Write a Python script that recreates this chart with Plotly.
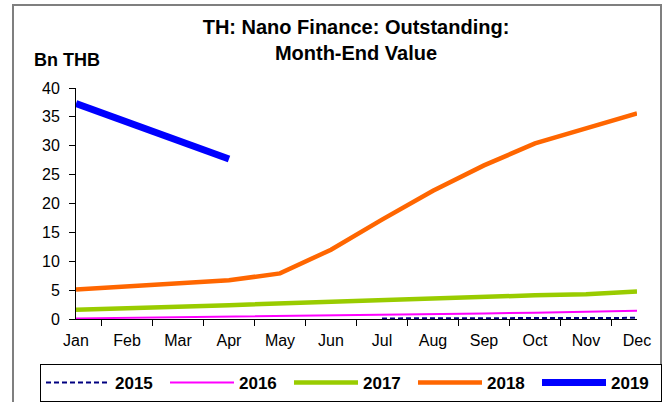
import plotly.graph_objects as go

months = ["Jan", "Feb", "Mar", "Apr", "May", "Jun", "Jul", "Aug", "Sep", "Oct", "Nov", "Dec"]
v2015 = [None, None, None, None, None, None, 0.1, 0.12, 0.13, 0.15, 0.17, 0.2]
v2016 = [0.1, 0.2, 0.3, 0.35, 0.45, 0.55, 0.7, 0.85, 0.95, 1.1, 1.25, 1.45]
v2017 = [1.6, 1.8, 2.1, 2.4, 2.7, 3.0, 3.3, 3.6, 3.9, 4.1, 4.3, 4.75]
v2018 = [5.1, 5.6, 6.2, 6.7, 7.9, 12.0, 17.2, 22.2, 26.6, 30.4, 33.0, 35.6]
v2019 = [37.3, 34.2, 30.8, 27.7]
y_ticks = [0, 5, 10, 15, 20, 25, 30, 35, 40]

series = [
    ("2015", v2015, "#000080", 2, "5px,3px"),
    ("2016", v2016, "#FF00FF", 2, "solid"),
    ("2017", v2017, "#99CC00", 4.5, "solid"),
    ("2018", v2018, "#FF6600", 4.5, "solid"),
    ("2019", v2019, "#0000FF", 7, "solid"),
]

FONT = "Arial, Liberation Sans, sans-serif"
fig = go.Figure()
for name, vals, color, width, dash in series:
    fig.add_trace(go.Scatter(
        x=months[:len(vals)], y=vals, name=name, mode="lines",
        line=dict(color=color, width=width, dash=dash),
    ))

L, R, T, B = 76, 30, 88, 83
W, H = 667, 402
pw, ph = W - L - R, H - T - B

def px(x):
    return (x - L) / pw

def py(y):
    return (H - B - y) / ph

fig.update_layout(
    width=W, height=H,
    margin=dict(l=L, r=R, t=T, b=B, autoexpand=False),
    paper_bgcolor="white", plot_bgcolor="white",
    font=dict(family=FONT, size=16, color="black"),
    title=dict(
        text="<b>TH: Nano Finance: Outstanding:<br>Month-End Value</b>",
        x=px(356), xanchor="center", xref="paper",
        y=1 - 34 / H, yanchor="top", yref="container",
        font=dict(family=FONT, size=20, color="black"),
    ),
    xaxis=dict(
        categoryorder="array", categoryarray=months,
        showline=True, linecolor="black", linewidth=1,
        ticks="outside", ticklen=6, tickcolor="black", tickson="boundaries",
        showgrid=False, zeroline=False,
        tickfont=dict(size=16), ticklabelstandoff=7,
    ),
    yaxis=dict(
        range=[0, 40], tickvals=y_ticks,
        showline=True, linecolor="black", linewidth=1,
        ticks="outside", ticklen=6, tickcolor="black",
        showgrid=False, zeroline=False,
        tickfont=dict(size=16), ticklabelstandoff=6,
    ),
    legend=dict(
        orientation="h", x=px(40), xanchor="left", y=py(364), yanchor="top",
        bordercolor="black", borderwidth=1, bgcolor="white",
        font=dict(family=FONT, size=17, color="black", weight="bold"),
        itemwidth=64, entrywidth=45, entrywidthmode="pixels",
        tracegroupgap=0,
    ),
    showlegend=True,
    annotations=[dict(
        text="<b>Bn THB</b>", x=px(32), xanchor="left", xref="paper",
        y=py(60), yanchor="middle", yref="paper", showarrow=False,
        font=dict(family=FONT, size=18, color="black"),
    )],
    shapes=[dict(
        type="rect", xref="paper", yref="paper",
        x0=px(13), x1=px(661), y0=py(420), y1=py(5),
        line=dict(color="#7f7f7f", width=2), fillcolor="rgba(0,0,0,0)", layer="below",
    )],
)

fig.write_html("out.html", config={"displayModeBar": False},
               post_script="document.body.style.margin='0';")
